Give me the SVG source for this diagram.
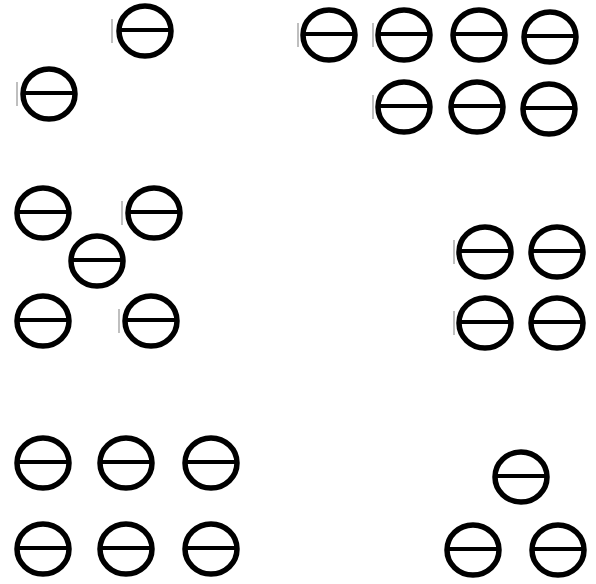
<svg xmlns="http://www.w3.org/2000/svg" xmlns:xlink="http://www.w3.org/1999/xlink" width="596" height="584" viewBox="0 0 596 584">
<style>
.ring{fill:none;stroke:#000;stroke-width:5.5}
.bar{stroke:#000;stroke-width:4}
.tick{stroke:#aaa;stroke-width:1.5}
</style>
<defs>
<g id="sym">
<ellipse class="ring" cx="0" cy="0" rx="26" ry="25"/>
<line class="bar" x1="-26" y1="-1" x2="26" y2="-1"/>
</g>
<line id="tk" class="tick" x1="0" y1="-12" x2="0" y2="12"/>
</defs>
<rect width="596" height="584" fill="#fff"/>
<g id="n1"><use xlink:href="#sym" x="145" y="31"/><use xlink:href="#tk" x="112" y="31"/></g>
<g id="n2"><use xlink:href="#sym" x="49" y="94"/><use xlink:href="#tk" x="17" y="94"/></g>
<g id="n3"><use xlink:href="#sym" x="329" y="35"/><use xlink:href="#tk" x="298" y="35"/></g>
<g id="n4"><use xlink:href="#sym" x="404" y="35"/><use xlink:href="#tk" x="373" y="35"/></g>
<g id="n5"><use xlink:href="#sym" x="479" y="35"/></g>
<g id="n6"><use xlink:href="#sym" x="550" y="37"/></g>
<g id="n7"><use xlink:href="#sym" x="404" y="107"/><use xlink:href="#tk" x="373" y="107"/></g>
<g id="n8"><use xlink:href="#sym" x="477" y="107"/></g>
<g id="n9"><use xlink:href="#sym" x="549" y="109"/></g>
<g id="n10"><use xlink:href="#sym" x="43" y="213"/></g>
<g id="n11"><use xlink:href="#sym" x="154" y="213"/><use xlink:href="#tk" x="122" y="213"/></g>
<g id="n12"><use xlink:href="#sym" x="97" y="261"/></g>
<g id="n13"><use xlink:href="#sym" x="43" y="321"/></g>
<g id="n14"><use xlink:href="#sym" x="151" y="321"/><use xlink:href="#tk" x="119" y="321"/></g>
<g id="n15"><use xlink:href="#sym" x="485" y="252"/><use xlink:href="#tk" x="454" y="252"/></g>
<g id="n16"><use xlink:href="#sym" x="557" y="252"/></g>
<g id="n17"><use xlink:href="#sym" x="485" y="323"/><use xlink:href="#tk" x="454" y="323"/></g>
<g id="n18"><use xlink:href="#sym" x="557" y="323"/></g>
<g id="n19"><use xlink:href="#sym" x="43" y="463"/></g>
<g id="n20"><use xlink:href="#sym" x="126" y="463"/></g>
<g id="n21"><use xlink:href="#sym" x="211" y="463"/></g>
<g id="n22"><use xlink:href="#sym" x="43" y="549"/></g>
<g id="n23"><use xlink:href="#sym" x="126" y="549"/></g>
<g id="n24"><use xlink:href="#sym" x="211" y="549"/></g>
<g id="n25"><use xlink:href="#sym" x="521" y="477"/></g>
<g id="n26"><use xlink:href="#sym" x="473" y="550"/></g>
<g id="n27"><use xlink:href="#sym" x="558" y="550"/></g>
<g id="connectors"/>
</svg>
